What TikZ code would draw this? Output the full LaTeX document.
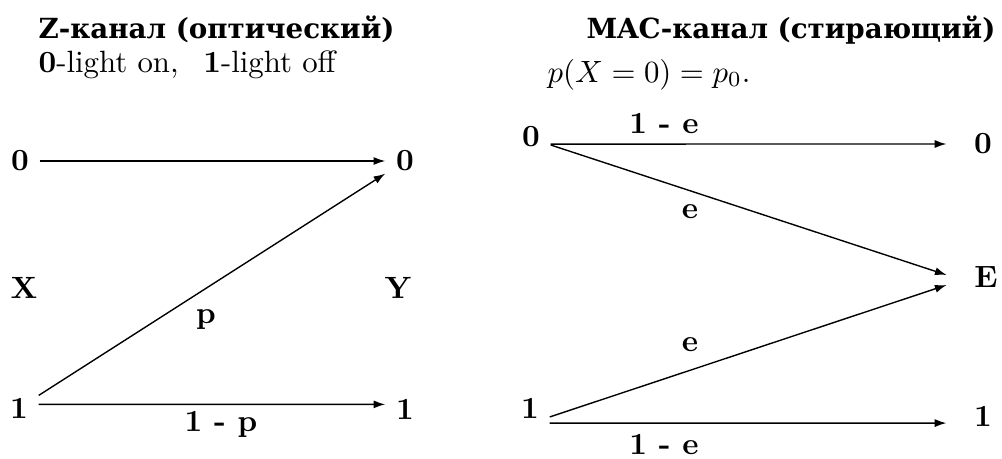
\documentclass[tikz,border=0pt]{standalone}
\usepackage{fontspec}
\newfontfamily\cyrfont{DejaVu Serif}[Scale=0.9]
\usetikzlibrary{arrows.meta}
\begin{document}
\begin{tikzpicture}[x=0.3247pt,y=-0.3247pt,
  lab/.style={font=\bfseries},
  rlab/.style={font=\bfseries,inner xsep=8.8pt},
  arr/.style={-{Latex[length=3.8pt,width=2.6pt]},line width=0.45pt},
  ttl/.style={anchor=base west,inner sep=0pt,font=\cyrfont\bfseries},
  txt/.style={anchor=base west,inner sep=0pt}]
\path[use as bounding box] (0,0) rectangle (1002,458);
% titles
\node[ttl] (t1) at (38,38) {Z-канал (оптический)};
\node[txt] (s1) at (38,72) {\textbf{0}-light on,\hskip 8pt\textbf{1}-light off};
\node[ttl,anchor=base east] (t2) at (996,38) {MAC-канал (стирающий)};
\node[txt] (s2) at (547,82) {$p(X=0)=p_0.$};
% Z-channel
\node[lab] (x0) at (20,161) {0};
\node[lab] (y0) at (405,161) {0};
\node[lab] (x1) at (19,408) {1};
\node[lab] (y1) at (405,409) {1};
\node[lab] (xl) at (24,288) {X};
\node[lab] (yl) at (398,288) {Y};
\node[lab] (lp) at (206,320) {p};
\node[lab] (l1p) at (221,424) {1 - p};
\draw[arr] (x0) -- (y0);
\draw[arr] (x1) -- (y0);
\draw[arr] ([yshift=1.2pt]x1.east) -- ([yshift=1.5pt]y1.west);
% erasure channel
\node[lab] (a0) at (531,137) {0};
\node[lab] (a1) at (530,408) {1};
\node[rlab] (b0) at (983,144) {0};
\node[rlab] (bE) at (986,277) {E};
\node[rlab] (b1) at (983,416) {1};
\node[lab] (e1) at (664,124) {1 - e};
\node[lab] (e2) at (690,212) {e};
\node[lab] (e3) at (690,345) {e};
\node[lab] (e4) at (664,444) {1 - e};
\draw[arr] ([yshift=-2.3pt]a0.east) -- (b0.west);
\draw[arr] ([yshift=-2.6pt]a0.east) -- ([yshift=0.65pt]bE.west);
\draw[arr] ([yshift=-2.9pt]a1.east) -- ([yshift=-2.6pt]bE.west);
\draw[arr] ([yshift=-4.9pt]a1.east) -- ([yshift=-2.3pt]b1.west);
\end{tikzpicture}
\end{document}
